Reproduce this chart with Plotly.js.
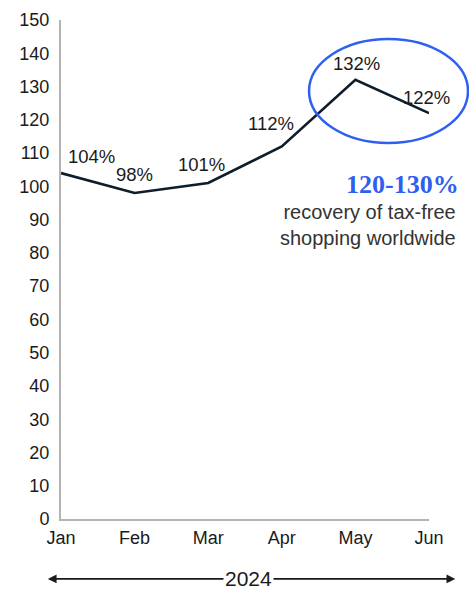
<!DOCTYPE html>
<html><head><meta charset="utf-8">
<script src="https://cdn.plot.ly/plotly-3.0.1.min.js"></script>
<style>html,body{margin:0;padding:0;background:#fff}#c{width:469px;height:590px}</style>
</head><body><div id="c"></div>
<script>
const months = ["Jan","Feb","Mar","Apr","May","Jun"];
const values = [104, 98, 101, 112, 132, 122];
const labels = ["104%","98%","101%","112%","132%","122%"];
const yTicks = [0,10,20,30,40,50,60,70,80,90,100,110,120,130,140,150];
const yearLabel = "2024";
const calloutTitle = "120-130%";
const calloutText = "recovery of tax-free<br>shopping worldwide";

// label offsets in pixels (style only)
const labelShiftX = [30, 0, -7, -11, 1, -3];
const labelShiftY = [17, 18, 19, 23, 16, 16];

const trace = {
  x: months.map((m,i)=>i), y: values, mode: "lines",
  line: {color: "#0d1d2b", width: 2.6},
  hoverinfo: "none"
};

const pointLabels = values.map((v,i)=>({
  xref: "x", yref: "y", x: i, y: v, text: labels[i], showarrow: false,
  xanchor: "center", yanchor: "middle", xshift: labelShiftX[i], yshift: labelShiftY[i],
  font: {family: "Liberation Sans, Arial, sans-serif", size: 18.5, color: "#1a1a1a"}
}));

const layout = {
  width: 469, height: 590,
  margin: {l: 61, r: 40, t: 20, b: 71},
  paper_bgcolor: "#fff", plot_bgcolor: "#fff",
  showlegend: false,
  font: {family: "Liberation Sans, Arial, sans-serif", color: "#1a1a1a"},
  xaxis: {range: [0, 5], tickvals: months.map((m,i)=>i), ticktext: months,
    showgrid: false, zeroline: false, showline: true, linecolor: "#b3b3b3", linewidth: 2,
    ticks: "outside", ticklen: 1, tickcolor: "rgba(0,0,0,0)",
    tickfont: {size: 18, color: "#1a1a1a"}, fixedrange: true},
  yaxis: {range: [0, 150], tickvals: yTicks, showgrid: false, zeroline: false,
    showline: true, linecolor: "#b3b3b3", linewidth: 2,
    ticks: "outside", ticklen: 6, tickcolor: "rgba(0,0,0,0)",
    tickfont: {size: 18, color: "#1a1a1a"}, fixedrange: true},
  shapes: [{type: "circle", xref: "paper", yref: "paper",
    x0: 0.674, x1: 1.106, y0: 0.7535, y1: 0.962,
    line: {color: "#2f5ff0", width: 2.5}, fillcolor: "rgba(0,0,0,0)", layer: "above"}],
  annotations: pointLabels.concat([
    {xref: "paper", yref: "paper", x: 1.086, y: 0.67, xanchor: "right", yanchor: "middle",
     text: "<b>" + calloutTitle + "</b>", showarrow: false,
     font: {family: "Liberation Serif, Times New Roman, serif", size: 26, color: "#2f5ff0"}},
    {xref: "paper", yref: "paper", x: 1.08, y: 0.589, xanchor: "right", yanchor: "middle",
     text: calloutText, showarrow: false, align: "right",
     font: {size: 20, color: "#333"}},
    {xref: "paper", yref: "paper", x: 1.0715, y: -0.12, ax: -0.04, ay: -0.12,
     axref: "paper", ayref: "paper", text: "", showarrow: true, arrowhead: 2, arrowsize: 1.1,
     arrowwidth: 1.6, arrowcolor: "#1a1a1a", arrowside: "end+start", standoff: 0, startstandoff: 0},
    {xref: "paper", yref: "paper", x: 0.51, y: -0.12, xanchor: "center", yanchor: "middle",
     text: yearLabel, showarrow: false, bgcolor: "#fff", borderpad: 1,
     font: {size: 21, color: "#1a1a1a"}}
  ])
};

Plotly.newPlot("c", [trace], layout, {displayModeBar: false, staticPlot: true});
</script></body></html>
